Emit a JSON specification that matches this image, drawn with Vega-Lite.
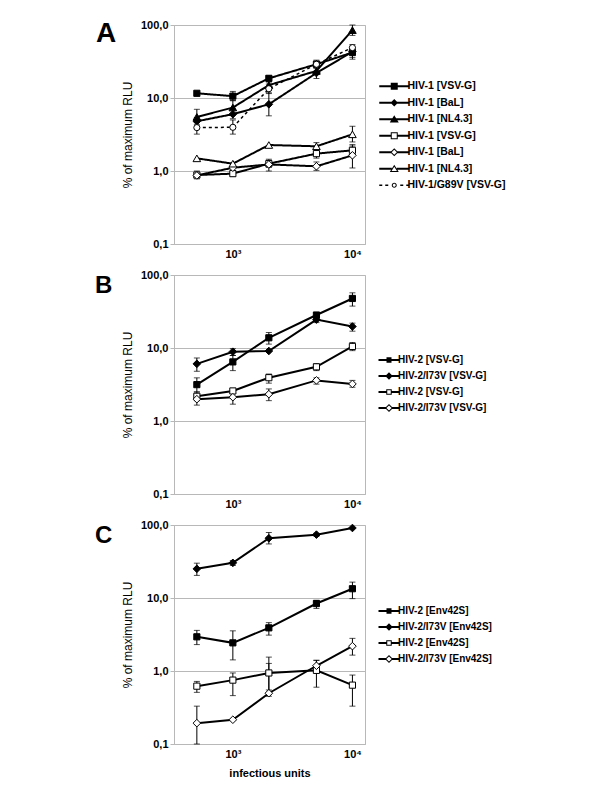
{
  "$schema": "https://vega.github.io/schema/vega-lite/v6.json",
  "background": "white",
  "padding": {"left": 94, "top": 18, "right": 5, "bottom": 5},
  "bounds": "flush",
  "spacing": 31,
  "config": {
    "font": "Liberation Sans",
    "view": {"stroke": "#b8b8b8", "strokeWidth": 1},
    "axis": {
      "labelFont": "Liberation Sans", "labelFontSize": 11, "labelFontWeight": "bold", "labelColor": "black",
      "titleFont": "Liberation Sans", "titleFontSize": 12, "titleFontWeight": "normal", "titleColor": "black",
      "domainColor": "#b8b8b8", "gridColor": "#b8b8b8", "tickColor": "#b8b8b8"
    },
    "legend": {"labelFont": "Liberation Sans", "labelFontWeight": "bold", "labelColor": "black", "padding": 0, "symbolSize": 100}
  },
  "resolve": {
    "scale": {"x": "independent", "y": "independent", "opacity": "independent", "strokeDash": "independent"},
    "legend": {"opacity": "independent"}
  },
  "datasets": {
    "A": [
      {"s": "A1", "x": 500, "y": 11.6, "dash": "s"},
      {"s": "A1", "x": 1000, "y": 10.6, "lo": 9.2, "hi": 12.3, "dash": "s"},
      {"s": "A1", "x": 2000, "y": 18.6, "lo": 17.2, "hi": 20.2, "dash": "s"},
      {"s": "A1", "x": 5000, "y": 29, "lo": 26.5, "hi": 32, "dash": "s"},
      {"s": "A1", "x": 10000, "y": 42, "lo": 34, "hi": 49, "dash": "s"},
      {"s": "A2", "x": 500, "y": 4.8, "lo": 4.3, "hi": 5.4, "dash": "s"},
      {"s": "A2", "x": 1000, "y": 6.0, "lo": 5.2, "hi": 7.0, "dash": "s"},
      {"s": "A2", "x": 2000, "y": 8.2, "lo": 5.7, "hi": 11.8, "dash": "s"},
      {"s": "A2", "x": 5000, "y": 22, "lo": 18.5, "hi": 25.5, "dash": "s"},
      {"s": "A2", "x": 10000, "y": 43, "lo": 36, "hi": 48, "dash": "s"},
      {"s": "A3", "x": 500, "y": 5.5, "lo": 4.6, "hi": 7.0, "dash": "s"},
      {"s": "A3", "x": 1000, "y": 7.4, "lo": 6.0, "hi": 9.2, "dash": "s"},
      {"s": "A3", "x": 2000, "y": 15, "lo": 13.5, "hi": 16.5, "dash": "s"},
      {"s": "A3", "x": 5000, "y": 23.5, "lo": 21, "hi": 27, "dash": "s"},
      {"s": "A3", "x": 10000, "y": 85, "lo": 72, "hi": 100, "dash": "s"},
      {"s": "A4", "x": 500, "y": 0.88, "lo": 0.78, "hi": 1.0, "dash": "s"},
      {"s": "A4", "x": 1000, "y": 0.92, "lo": 0.84, "hi": 1.0, "dash": "s"},
      {"s": "A4", "x": 2000, "y": 1.26, "lo": 1.12, "hi": 1.4, "dash": "s"},
      {"s": "A4", "x": 5000, "y": 1.73, "lo": 1.5, "hi": 2.0, "dash": "s"},
      {"s": "A4", "x": 10000, "y": 1.92, "lo": 1.65, "hi": 2.3, "dash": "s"},
      {"s": "A5", "x": 500, "y": 0.87, "dash": "s"},
      {"s": "A5", "x": 1000, "y": 1.11, "dash": "s"},
      {"s": "A5", "x": 2000, "y": 1.23, "lo": 1.0, "hi": 1.45, "dash": "s"},
      {"s": "A5", "x": 5000, "y": 1.16, "lo": 1.02, "hi": 1.33, "dash": "s"},
      {"s": "A5", "x": 10000, "y": 1.64, "lo": 1.1, "hi": 2.2, "dash": "s"},
      {"s": "A6", "x": 500, "y": 1.49, "dash": "s"},
      {"s": "A6", "x": 1000, "y": 1.26, "dash": "s"},
      {"s": "A6", "x": 2000, "y": 2.27, "dash": "s"},
      {"s": "A6", "x": 5000, "y": 2.18, "lo": 1.95, "hi": 2.45, "dash": "s"},
      {"s": "A6", "x": 10000, "y": 3.18, "lo": 2.5, "hi": 4.1, "dash": "s"},
      {"s": "A7", "x": 500, "y": 3.93, "lo": 3.2, "hi": 4.8, "dash": "d"},
      {"s": "A7", "x": 1000, "y": 3.97, "lo": 3.2, "hi": 5.0, "dash": "d"},
      {"s": "A7", "x": 2000, "y": 13.4, "lo": 11.5, "hi": 15.5, "dash": "d"},
      {"s": "A7", "x": 5000, "y": 29, "lo": 26, "hi": 33, "dash": "d"},
      {"s": "A7", "x": 10000, "y": 49, "lo": 44, "hi": 54, "dash": "d"}
    ],
    "B": [
      {"s": "B1", "x": 500, "y": 3.15, "lo": 2.5, "hi": 3.9, "dash": "s"},
      {"s": "B1", "x": 1000, "y": 6.45, "lo": 4.9, "hi": 7.9, "dash": "s"},
      {"s": "B1", "x": 2000, "y": 13.8, "lo": 11.3, "hi": 16.3, "dash": "s"},
      {"s": "B1", "x": 5000, "y": 28.3, "lo": 26, "hi": 30.4, "dash": "s"},
      {"s": "B1", "x": 10000, "y": 47.7, "lo": 37.5, "hi": 57, "dash": "s"},
      {"s": "B2", "x": 500, "y": 6.07, "lo": 4.8, "hi": 7.3, "dash": "s"},
      {"s": "B2", "x": 1000, "y": 8.9, "lo": 7.9, "hi": 9.8, "dash": "s"},
      {"s": "B2", "x": 2000, "y": 9.1, "dash": "s"},
      {"s": "B2", "x": 5000, "y": 24.5, "lo": 22.3, "hi": 26, "dash": "s"},
      {"s": "B2", "x": 10000, "y": 19.7, "lo": 17, "hi": 21.9, "dash": "s"},
      {"s": "B3", "x": 500, "y": 2.18, "lo": 1.9, "hi": 2.5, "dash": "s"},
      {"s": "B3", "x": 1000, "y": 2.58, "dash": "s"},
      {"s": "B3", "x": 2000, "y": 3.92, "lo": 3.3, "hi": 4.4, "dash": "s"},
      {"s": "B3", "x": 5000, "y": 5.52, "lo": 4.9, "hi": 6.1, "dash": "s"},
      {"s": "B3", "x": 10000, "y": 10.5, "lo": 9.2, "hi": 11.9, "dash": "s"},
      {"s": "B4", "x": 500, "y": 1.99, "lo": 1.65, "hi": 2.3, "dash": "s"},
      {"s": "B4", "x": 1000, "y": 2.12, "lo": 1.7, "hi": 2.4, "dash": "s"},
      {"s": "B4", "x": 2000, "y": 2.33, "lo": 1.9, "hi": 2.75, "dash": "s"},
      {"s": "B4", "x": 5000, "y": 3.6, "lo": 3.2, "hi": 3.9, "dash": "s"},
      {"s": "B4", "x": 10000, "y": 3.22, "lo": 2.9, "hi": 3.6, "dash": "s"}
    ],
    "C": [
      {"s": "C1", "x": 500, "y": 2.94, "lo": 2.3, "hi": 3.6, "dash": "s"},
      {"s": "C1", "x": 1000, "y": 2.43, "lo": 1.42, "hi": 3.55, "dash": "s"},
      {"s": "C1", "x": 2000, "y": 3.9, "lo": 3.1, "hi": 4.6, "dash": "s"},
      {"s": "C1", "x": 5000, "y": 8.4, "lo": 7.2, "hi": 9.3, "dash": "s"},
      {"s": "C1", "x": 10000, "y": 13.4, "lo": 9.8, "hi": 16.5, "dash": "s"},
      {"s": "C2", "x": 500, "y": 25.1, "lo": 20.4, "hi": 30, "dash": "s"},
      {"s": "C2", "x": 1000, "y": 30.3, "lo": 27.9, "hi": 32.6, "dash": "s"},
      {"s": "C2", "x": 2000, "y": 65.8, "lo": 55, "hi": 79, "dash": "s"},
      {"s": "C2", "x": 5000, "y": 73.8, "lo": 70, "hi": 77, "dash": "s"},
      {"s": "C2", "x": 10000, "y": 91, "dash": "s"},
      {"s": "C3", "x": 500, "y": 0.62, "lo": 0.51, "hi": 0.72, "dash": "s"},
      {"s": "C3", "x": 1000, "y": 0.75, "lo": 0.46, "hi": 0.94, "dash": "s"},
      {"s": "C3", "x": 2000, "y": 0.94, "lo": 0.55, "hi": 1.55, "dash": "s"},
      {"s": "C3", "x": 5000, "y": 1.02, "lo": 0.6, "hi": 1.4, "dash": "s"},
      {"s": "C3", "x": 10000, "y": 0.64, "lo": 0.33, "hi": 0.88, "dash": "s"},
      {"s": "C4", "x": 500, "y": 0.193, "lo": 0.1, "hi": 0.33, "dash": "s"},
      {"s": "C4", "x": 1000, "y": 0.215, "dash": "s"},
      {"s": "C4", "x": 2000, "y": 0.496, "lo": 0.45, "hi": 1.27, "dash": "s"},
      {"s": "C4", "x": 5000, "y": 1.18, "lo": 1.05, "hi": 1.4, "dash": "s"},
      {"s": "C4", "x": 10000, "y": 2.19, "lo": 1.65, "hi": 2.8, "dash": "s"}
    ]
  },
  "vconcat": [
    {
      "width": 191, "height": 219,
      "data": {"name": "A"},
      "title": {"text": "A", "anchor": "start", "frame": "group", "orient": "top", "offset": -51, "dx": -78, "baseline": "alphabetic", "fontSize": 28, "fontWeight": "bold", "font": "Liberation Sans", "color": "black"},
      "encoding": {
        "x": {"field": "x", "type": "quantitative", "scale": {"type": "log", "domain": [322, 12740], "nice": false},
              "axis": {"values": [1000, 10000], "labelExpr": "datum.value == 1000 ? '10³' : '10⁴'", "ticks": false, "labelPadding": 4, "grid": false, "title": null, "labelFlush": false}},
        "y": {"field": "y", "type": "quantitative", "title": "% of maximum RLU", "scale": {"type": "log", "domain": [0.1, 100], "nice": false},
              "axis": {"values": [0.1, 1, 10, 100], "labelExpr": "replace(format(datum.value, '.1f'), '.', ',')", "grid": true, "tickSize": 4, "labelPadding": 2, "titlePadding": 6}}
      },
      "layer": [
        {"mark": {"type": "line", "color": "black"},
         "encoding": {"detail": {"field": "s"},
                      "strokeDash": {"field": "dash", "type": "nominal", "scale": {"domain": ["s", "d"], "range": [[1, 0], [3, 3]]}, "legend": null},
                      "strokeWidth": {"condition": {"test": "datum.dash == 'd'", "value": 1.5}, "value": 2}}},
        {"mark": {"type": "rule", "color": "black", "strokeWidth": 1},
         "encoding": {"y": {"field": "lo", "type": "quantitative", "title": "% of maximum RLU"}, "y2": {"field": "hi"}}},
        {"mark": {"type": "tick", "orient": "horizontal", "color": "black", "thickness": 1, "size": 6},
         "encoding": {"y": {"field": "lo", "type": "quantitative", "title": "% of maximum RLU"}}},
        {"mark": {"type": "tick", "orient": "horizontal", "color": "black", "thickness": 1, "size": 6},
         "encoding": {"y": {"field": "hi", "type": "quantitative", "title": "% of maximum RLU"}}},
        {"mark": {"type": "point", "filled": true, "stroke": "black", "strokeWidth": 1},
         "encoding": {
           "shape": {"condition": [
             {"test": "datum.s == 'A2' || datum.s == 'A5'", "value": "diamond"},
             {"test": "datum.s == 'A3' || datum.s == 'A6'", "value": "triangle-up"},
             {"test": "datum.s == 'A7'", "value": "circle"}], "value": "square"},
           "fill": {"condition": {"test": "datum.s == 'A4' || datum.s == 'A5' || datum.s == 'A6' || datum.s == 'A7'", "value": "white"}, "value": "black"},
           "size": {"condition": {"test": "datum.s == 'A2' || datum.s == 'A3' || datum.s == 'A5' || datum.s == 'A6'", "value": 58}, "value": 38},
           "opacity": {"field": "s", "type": "nominal",
                     "scale": {"domain": ["A1", "A2", "A3", "A4", "A5", "A6", "A7"], "range": [1, 1, 1, 1, 1, 1, 1]},
                     "legend": {"orient": "none", "legendX": 225, "legendY": 56, "title": null, "rowPadding": 5.5, "labelFontSize": 10.5, "labelOffset": -2,
                                "labelExpr": "datum.value === 'A1' ? 'HIV-1 [VSV-G]' : datum.value === 'A2' ? 'HIV-1 [BaL]' : datum.value === 'A3' ? 'HIV-1 [NL4.3]' : datum.value === 'A4' ? 'HIV-1 [VSV-G]' : datum.value === 'A5' ? 'HIV-1 [BaL]' : datum.value === 'A6' ? 'HIV-1 [NL4.3]' : 'HIV-1/G89V [VSV-G]'",
                                "encoding": {"symbols": {
                                  "shape": {"value": {"expr": "datum.value === 'A1' ? 'M-5,-0.2H1V0.2H-5Z M-2.7,-0.7H-1.3V0.7H-2.7Z' : datum.value === 'A2' ? 'M-5,-0.2H1V0.2H-5Z M-2,-0.75L-1.25,0L-2,0.75L-2.75,0Z' : datum.value === 'A3' ? 'M-5,-0.2H1V0.2H-5Z M-2,-0.8L-1.1,0.65L-2.9,0.65Z' : datum.value === 'A4' ? 'M-5,-0.2H-2.7V0.2H-5Z M-1.3,-0.2H1V0.2H-1.3Z M-2.7,-0.7H-1.3V0.7H-2.7Z M-2.5,-0.5V0.5H-1.5V-0.5Z' : datum.value === 'A5' ? 'M-5,-0.2H-2.6V0.2H-5Z M-1.4,-0.2H1V0.2H-1.4Z M-2,-0.8L-1.2,0L-2,0.8L-2.8,0Z M-2,-0.52L-2.52,0L-2,0.52L-1.48,0Z' : datum.value === 'A6' ? 'M-5,-0.2H-2.5V0.2H-5Z M-1.5,-0.2H1V0.2H-1.5Z M-2,-0.8L-1.1,0.65L-2.9,0.65Z M-2,-0.42L-2.54,0.45L-1.46,0.45Z' : 'M-5,-0.15H-4.4V0.15H-5Z M-3.8,-0.15H-3.2V0.15H-3.8Z M-0.8,-0.15H-0.2V0.15H-0.8Z M0.4,-0.15H1V0.15H0.4Z M-2.5,0A0.5,0.5 0 1,1 -1.5,0A0.5,0.5 0 1,1 -2.5,0Z M-2.3,0A0.3,0.3 0 1,0 -1.7,0A0.3,0.3 0 1,0 -2.3,0Z'"}},
                                  "size": {"value": 100}, "fill": {"value": "black"}, "stroke": {"value": "transparent"}, "strokeWidth": {"value": 0}, "opacity": {"value": 1}, "fillOpacity": {"value": 1}}}}}
         }}
      ]
    },
    {
      "width": 191, "height": 219,
      "data": {"name": "B"},
      "title": {"text": "B", "anchor": "start", "frame": "group", "orient": "top", "offset": -47.5, "dx": -79, "baseline": "alphabetic", "fontSize": 24, "fontWeight": "bold", "font": "Liberation Sans", "color": "black"},
      "encoding": {
        "x": {"field": "x", "type": "quantitative", "scale": {"type": "log", "domain": [322, 12740], "nice": false},
              "axis": {"values": [1000, 10000], "labelExpr": "datum.value == 1000 ? '10³' : '10⁴'", "ticks": false, "labelPadding": 4, "grid": false, "title": null, "labelFlush": false}},
        "y": {"field": "y", "type": "quantitative", "title": "% of maximum RLU", "scale": {"type": "log", "domain": [0.1, 100], "nice": false},
              "axis": {"values": [0.1, 1, 10, 100], "labelExpr": "replace(format(datum.value, '.1f'), '.', ',')", "grid": true, "tickSize": 4, "labelPadding": 2, "titlePadding": 6}}
      },
      "layer": [
        {"mark": {"type": "line", "color": "black", "strokeWidth": 2}, "encoding": {"detail": {"field": "s"}}},
        {"mark": {"type": "rule", "color": "black", "strokeWidth": 1},
         "encoding": {"y": {"field": "lo", "type": "quantitative", "title": "% of maximum RLU"}, "y2": {"field": "hi"}}},
        {"mark": {"type": "tick", "orient": "horizontal", "color": "black", "thickness": 1, "size": 6},
         "encoding": {"y": {"field": "lo", "type": "quantitative", "title": "% of maximum RLU"}}},
        {"mark": {"type": "tick", "orient": "horizontal", "color": "black", "thickness": 1, "size": 6},
         "encoding": {"y": {"field": "hi", "type": "quantitative", "title": "% of maximum RLU"}}},
        {"mark": {"type": "point", "filled": true, "stroke": "black", "strokeWidth": 1},
         "encoding": {
           "shape": {"condition": {"test": "datum.s == 'B2' || datum.s == 'B4'", "value": "diamond"}, "value": "square"},
           "fill": {"condition": {"test": "datum.s == 'B3' || datum.s == 'B4'", "value": "white"}, "value": "black"},
           "size": {"condition": {"test": "datum.s == 'B2' || datum.s == 'B4'", "value": 58}, "value": 38},
           "opacity": {"field": "s", "type": "nominal",
                     "scale": {"domain": ["B1", "B2", "B3", "B4"], "range": [1, 1, 1, 1]},
                     "legend": {"orient": "none", "legendX": 215.5, "legendY": 80, "title": null, "rowPadding": 6, "labelFontSize": 10, "labelOffset": -1.5,
                                "labelExpr": "datum.value === 'B1' ? 'HIV-2 [VSV-G]' : datum.value === 'B2' ? 'HIV-2/I73V [VSV-G]' : datum.value === 'B3' ? 'HIV-2 [VSV-G]' : 'HIV-2/I73V [VSV-G]'",
                                "encoding": {"symbols": {
                                  "shape": {"value": {"expr": "datum.value === 'B1' ? 'M-3.2,-0.2H1V0.2H-3.2Z M-1.6,-0.55H-0.6V0.55H-1.6Z' : datum.value === 'B2' ? 'M-3.2,-0.2H1V0.2H-3.2Z M-1.1,-0.75L-0.35,0L-1.1,0.75L-1.85,0Z' : datum.value === 'B3' ? 'M-3.2,-0.2H-1.65V0.2H-3.2Z M-0.55,-0.2H1V0.2H-0.55Z M-1.65,-0.55H-0.55V0.55H-1.65Z M-1.45,-0.35V0.35H-0.75V-0.35Z' : 'M-3.2,-0.2H-1.7V0.2H-3.2Z M-0.5,-0.2H1V0.2H-0.5Z M-1.1,-0.8L-0.3,0L-1.1,0.8L-1.9,0Z M-1.1,-0.52L-1.62,0L-1.1,0.52L-0.58,0Z'"}},
                                  "size": {"value": 100}, "fill": {"value": "black"}, "stroke": {"value": "transparent"}, "strokeWidth": {"value": 0}, "opacity": {"value": 1}, "fillOpacity": {"value": 1}}}}}
         }}
      ]
    },
    {
      "width": 191, "height": 219,
      "data": {"name": "C"},
      "title": {"text": "C", "anchor": "start", "frame": "group", "orient": "top", "offset": -48, "dx": -79, "baseline": "alphabetic", "fontSize": 24, "fontWeight": "bold", "font": "Liberation Sans", "color": "black"},
      "encoding": {
        "x": {"field": "x", "type": "quantitative", "scale": {"type": "log", "domain": [322, 12740], "nice": false},
              "axis": {"values": [1000, 10000], "labelExpr": "datum.value == 1000 ? '10³' : '10⁴'", "ticks": false, "labelPadding": 4, "grid": false, "title": "infectious units", "titleFontWeight": "bold", "titleFontSize": 11, "titlePadding": 8, "labelFlush": false}},
        "y": {"field": "y", "type": "quantitative", "title": "% of maximum RLU", "scale": {"type": "log", "domain": [0.1, 100], "nice": false},
              "axis": {"values": [0.1, 1, 10, 100], "labelExpr": "replace(format(datum.value, '.1f'), '.', ',')", "grid": true, "tickSize": 4, "labelPadding": 2, "titlePadding": 6}}
      },
      "layer": [
        {"mark": {"type": "line", "color": "black", "strokeWidth": 2}, "encoding": {"detail": {"field": "s"}}},
        {"mark": {"type": "rule", "color": "black", "strokeWidth": 1},
         "encoding": {"y": {"field": "lo", "type": "quantitative", "title": "% of maximum RLU"}, "y2": {"field": "hi"}}},
        {"mark": {"type": "tick", "orient": "horizontal", "color": "black", "thickness": 1, "size": 6},
         "encoding": {"y": {"field": "lo", "type": "quantitative", "title": "% of maximum RLU"}}},
        {"mark": {"type": "tick", "orient": "horizontal", "color": "black", "thickness": 1, "size": 6},
         "encoding": {"y": {"field": "hi", "type": "quantitative", "title": "% of maximum RLU"}}},
        {"mark": {"type": "point", "filled": true, "stroke": "black", "strokeWidth": 1},
         "encoding": {
           "shape": {"condition": {"test": "datum.s == 'C2' || datum.s == 'C4'", "value": "diamond"}, "value": "square"},
           "fill": {"condition": {"test": "datum.s == 'C3' || datum.s == 'C4'", "value": "white"}, "value": "black"},
           "size": {"condition": {"test": "datum.s == 'C2' || datum.s == 'C4'", "value": 58}, "value": 38},
           "opacity": {"field": "s", "type": "nominal",
                     "scale": {"domain": ["C1", "C2", "C3", "C4"], "range": [1, 1, 1, 1]},
                     "legend": {"orient": "none", "legendX": 215.5, "legendY": 81, "title": null, "rowPadding": 6, "labelFontSize": 10, "labelOffset": -1.5,
                                "labelExpr": "datum.value === 'C1' ? 'HIV-2 [Env42S]' : datum.value === 'C2' ? 'HIV-2/I73V [Env42S]' : datum.value === 'C3' ? 'HIV-2 [Env42S]' : 'HIV-2/I73V [Env42S]'",
                                "encoding": {"symbols": {
                                  "shape": {"value": {"expr": "datum.value === 'C1' ? 'M-3.2,-0.2H1V0.2H-3.2Z M-1.6,-0.55H-0.6V0.55H-1.6Z' : datum.value === 'C2' ? 'M-3.2,-0.2H1V0.2H-3.2Z M-1.1,-0.75L-0.35,0L-1.1,0.75L-1.85,0Z' : datum.value === 'C3' ? 'M-3.2,-0.2H-1.65V0.2H-3.2Z M-0.55,-0.2H1V0.2H-0.55Z M-1.65,-0.55H-0.55V0.55H-1.65Z M-1.45,-0.35V0.35H-0.75V-0.35Z' : 'M-3.2,-0.2H-1.7V0.2H-3.2Z M-0.5,-0.2H1V0.2H-0.5Z M-1.1,-0.8L-0.3,0L-1.1,0.8L-1.9,0Z M-1.1,-0.52L-1.62,0L-1.1,0.52L-0.58,0Z'"}},
                                  "size": {"value": 100}, "fill": {"value": "black"}, "stroke": {"value": "transparent"}, "strokeWidth": {"value": 0}, "opacity": {"value": 1}, "fillOpacity": {"value": 1}}}}}
         }}
      ]
    }
  ]
}
